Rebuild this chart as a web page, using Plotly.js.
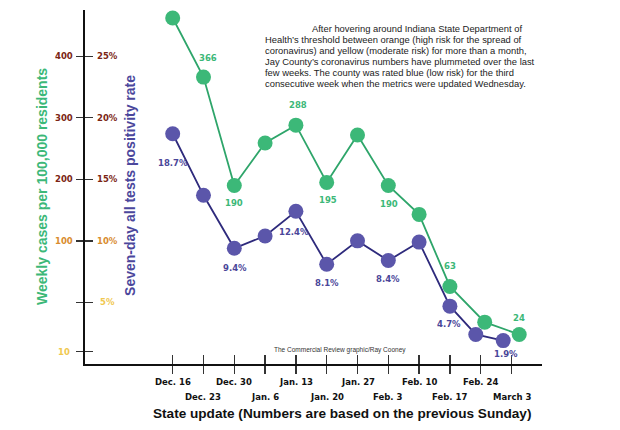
<!DOCTYPE html>
<html>
<head>
<meta charset="utf-8">
<script src="https://cdn.plot.ly/plotly-3.0.1.min.js"></script>
<style>html,body{margin:0;padding:0;background:#fff;}#chart{width:620px;height:430px;}</style>
</head>
<body>
<div id="chart"></div>
<script>
// ---- data ----
const dates = ['Dec. 16','Dec. 23','Dec. 30','Jan. 6','Jan. 13','Jan. 20','Jan. 27','Feb. 3','Feb. 10','Feb. 17','Feb. 24','March 3'];
const weeklyCases = [462, 366, 190, 259, 288, 195, 272, 190, 143, 63, 34, 24];
const positivity = [18.7, 13.7, 9.4, 10.4, 12.4, 8.1, 10.0, 8.4, 9.9, 4.7, 2.4, 1.9];
const casesLabels = ['', '366', '190', '', '288', '195', '', '190', '', '63', '', '24'];
const positivityLabels = ['18.7%', '', '9.4%', '', '12.4%', '8.1%', '', '8.4%', '', '4.7%', '', '1.9%'];
const caseTickLabels = ['400', '300', '200', '100', '', '10'];
const pctTickLabels = ['25%', '20%', '15%', '10%', '5%', ''];
const pctTicks = [25, 20, 15, 10, 5, 1];
const caseTicks = [400, 300, 200, 100, null, 10];
const paragraphLines = [
  'After hovering around Indiana State Department of',
  'Health\u2019s threshold between orange (high risk for the spread of',
  'coronavirus) and yellow (moderate risk) for more than a month,',
  'Jay County\u2019s coronavirus numbers have plummeted over the last',
  'few weeks. The county was rated blue (low risk) for the third',
  'consecutive week when the metrics were updated Wednesday.'
];

// ---- styles ----
const GREEN = '#3cb878', GREEN_LINE = '#2ea56a';
const PURPLE = '#5b56aa', PURPLE_LINE = '#2e2a7c', PURPLE_TEXT = '#4a4699';
const tickColors = ['#7b2514', '#7b2514', '#7b2514', '#d98c2f', '#f0c850', '#f0c850'];
// small horizontal nudges so overlapping end markers sit side by side (in category units)
const casesXNudge = [0, 0, 0, 0, 0, 0, 0, 0, 0, 0, 0.13, 0.25];
const pctXNudge = [0, 0, 0, 0, 0, 0, 0, 0, 0, 0, -0.16, -0.27];
const casesLabelShift = [0, 19, -18, 0, 20, -18, 0, -19, 0, 20, 0, 16];
const casesLabelXShift = [0, 5, 0, 0, 2, 1, 0, 1, 0, 0, 0, 0];
const pctLabelShift = [-29, 0, -20, 0, -21, -19, 0, -18, 0, -18, 0, -13];
const pctLabelXShift = [0, 0, 1, 0, -2, 0, 0, 0, 0, -1, 0, 3];
const BOLD = 'DejaVu Sans';

// the cases scale shares the percentage axis: ticks of both scales sit at the same heights
function casesToAxis(c) {
  const pairs = [];
  caseTicks.forEach((v, i) => { if (v !== null) pairs.push([v, pctTicks[i]]); });
  pairs.sort((a, b) => a[0] - b[0]);
  const seg = (a, b) => pairs[a][1] + (c - pairs[a][0]) * (pairs[b][1] - pairs[a][1]) / (pairs[b][0] - pairs[a][0]);
  if (c <= pairs[0][0]) return seg(0, 1);
  for (let i = 0; i < pairs.length - 1; i++) if (c <= pairs[i + 1][0]) return seg(i, i + 1);
  return seg(pairs.length - 2, pairs.length - 1);
}
const casesY = weeklyCases.map(casesToAxis);
const idx = dates.map((d, i) => i);
const casesX = idx.map(i => i + casesXNudge[i]);
const pctX = idx.map(i => i + pctXNudge[i]);

const traces = [
  {
    x: pctX, y: positivity, type: 'scatter', mode: 'lines+markers',
    line: {color: PURPLE_LINE, width: 1.8},
    marker: {color: PURPLE, size: 15},
    cliponaxis: false, hoverinfo: 'skip'
  },
  {
    x: casesX, y: casesY, type: 'scatter', mode: 'lines+markers',
    line: {color: GREEN_LINE, width: 1.8},
    marker: {color: GREEN, size: 15},
    cliponaxis: false, hoverinfo: 'skip'
  }
];

const ann = [];
casesLabels.forEach((t, i) => {
  if (!t) return;
  ann.push({x: casesX[i], y: casesY[i], xref: 'x', yref: 'y', text: t, showarrow: false,
    yshift: casesLabelShift[i], xshift: casesLabelXShift[i],
    font: {family: BOLD, size: 8.5, color: GREEN, weight: 'bold'}});
});
positivityLabels.forEach((t, i) => {
  if (!t) return;
  ann.push({x: pctX[i], y: positivity[i], xref: 'x', yref: 'y', text: t, showarrow: false,
    yshift: pctLabelShift[i], xshift: pctLabelXShift[i],
    font: {family: BOLD, size: 8.5, color: PURPLE_TEXT, weight: 'bold'}});
});
pctTicks.forEach((p, i) => {
  if (caseTickLabels[i]) ann.push({x: 0, xref: 'paper', y: p, yref: 'y', text: caseTickLabels[i],
    showarrow: false, xanchor: 'center', xshift: -21,
    font: {family: BOLD, size: 8.5, color: tickColors[i], weight: 'bold'}});
  if (pctTickLabels[i]) ann.push({x: 0, xref: 'paper', y: p, yref: 'y', text: pctTickLabels[i],
    showarrow: false, xanchor: 'center', xshift: 22,
    font: {family: BOLD, size: 8.5, color: tickColors[i], weight: 'bold'}});
});
dates.forEach((d, i) => {
  ann.push({x: i, xref: 'x', y: 0, yref: 'paper', text: d, showarrow: false,
    yanchor: 'middle', yshift: i % 2 === 0 ? -18 : -33,
    font: {family: BOLD, size: 8.5, color: '#111', weight: 'bold'}});
});
// axis titles
ann.push({x: 0, xref: 'paper', y: 0.5, yref: 'paper', text: 'Weekly cases per 100,000 residents',
  textangle: -90, showarrow: false, xanchor: 'center', yanchor: 'middle', xshift: -43,
  font: {family: 'Liberation Sans', size: 14, color: GREEN, weight: 'bold'}});
ann.push({x: 0, xref: 'paper', y: 0.503, yref: 'paper', text: 'Seven-day all tests positivity rate',
  textangle: -90, showarrow: false, xanchor: 'center', yanchor: 'middle', xshift: 45,
  font: {family: 'Liberation Sans', size: 14, color: '#4b479c', weight: 'bold'}});
ann.push({x: 0.562, xref: 'paper', y: 0, yref: 'paper', text: 'State update (Numbers are based on the previous Sunday)',
  showarrow: false, xanchor: 'center', yanchor: 'middle', yshift: -49,
  font: {family: 'Liberation Sans', size: 13.6, color: '#111', weight: 'bold'}});
ann.push({x: 0.558, xref: 'paper', y: 0.0395, yref: 'paper', text: 'The Commercial Review graphic/Ray Cooney',
  showarrow: false, xanchor: 'center', yanchor: 'middle',
  font: {family: 'Liberation Sans', size: 6.5, color: '#333'}});
const paraTop = [28.5, 39.4, 50.3, 61.2, 72.1, 83];
paragraphLines.forEach((t, i) => {
  ann.push({x: i === 0 ? 0.4923 : 0.3895, xref: 'paper', y: (364 - paraTop[i]) / 354, yref: 'paper',
    text: t, showarrow: false, xanchor: 'left', yanchor: 'middle',
    font: {family: 'Liberation Sans', size: 9.4, color: '#222'}});
});

const xr = [-2.847, 11.99];
const layout = {
  width: 620, height: 430,
  margin: {l: 85, r: 78, t: 10, b: 66, pad: 0},
  paper_bgcolor: '#fff', plot_bgcolor: '#fff',
  showlegend: false,
  xaxis: {range: xr, showgrid: false, zeroline: false,
    showline: true, linecolor: '#111', linewidth: 1.6,
    tickmode: 'array', tickvals: idx,
    ticks: 'outside', ticklen: 8, tickwidth: 1.3, tickcolor: '#333', showticklabels: false, fixedrange: true},
  xaxis2: {range: xr, overlaying: 'x', anchor: 'y', side: 'bottom', showgrid: false, zeroline: false,
    showline: false, ticks: 'inside', ticklen: 9, tickwidth: 1.3, tickcolor: '#333', showticklabels: false,
    tickmode: 'array', tickvals: idx},
  yaxis: {range: [0, 28.75], showgrid: false, zeroline: false, showline: true, linecolor: '#111', linewidth: 1.6,
    tickmode: 'array', tickvals: pctTicks, ticks: 'outside', ticklen: 7, tickwidth: 1.3, tickcolor: '#333',
    showticklabels: false, fixedrange: true},
  yaxis2: {range: [0, 28.75], overlaying: 'y', anchor: 'x', side: 'left', showgrid: false, zeroline: false, showline: false,
    tickmode: 'array', tickvals: pctTicks, ticks: 'inside', ticklen: 8, tickwidth: 1.3, tickcolor: '#333',
    showticklabels: false},
  annotations: ann
};
// invisible trace so the overlay axes (inner tick halves) are drawn
traces.push({x: [0], y: [0], xaxis: 'x2', yaxis: 'y2', mode: 'markers', marker: {opacity: 0}, hoverinfo: 'skip'});
Plotly.newPlot('chart', traces, layout, {staticPlot: true});
</script>
</body>
</html>
